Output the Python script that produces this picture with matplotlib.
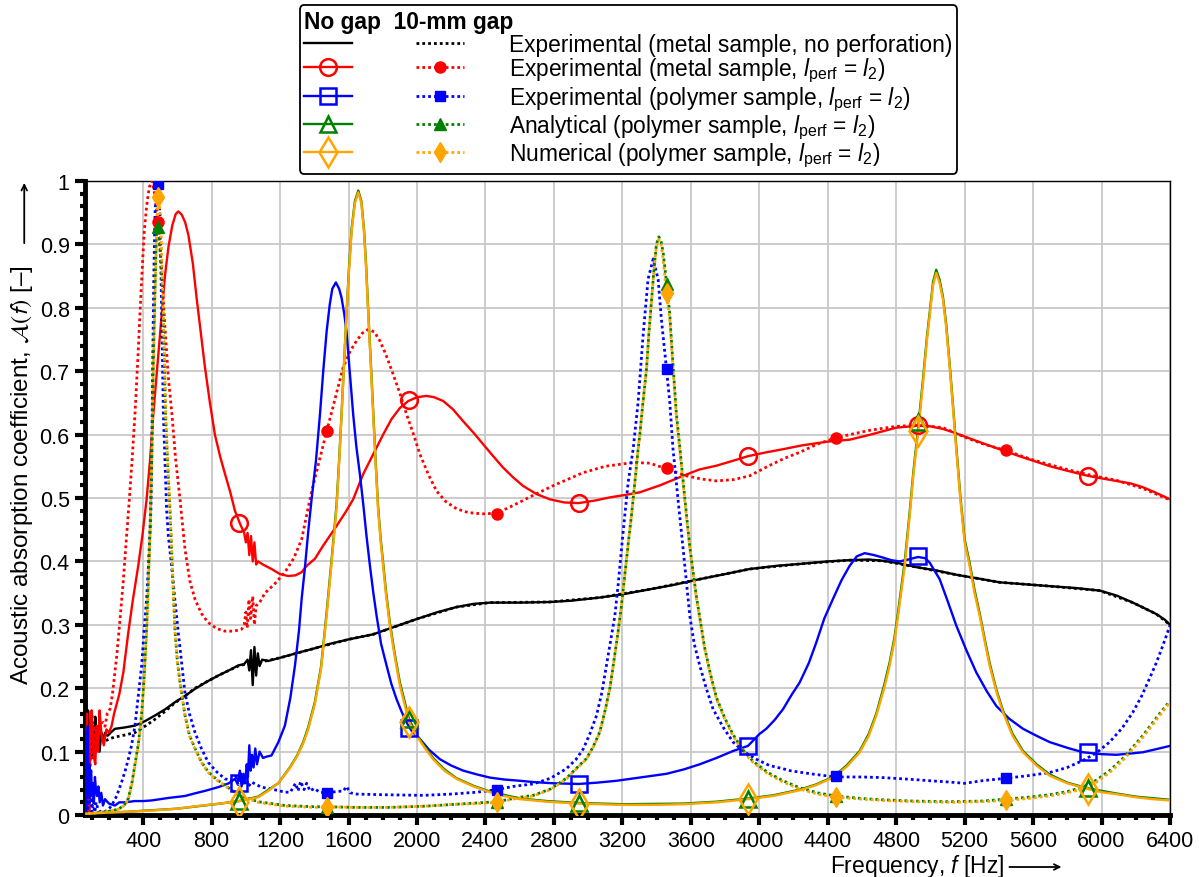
import numpy as np
import matplotlib
matplotlib.use("Agg")
import matplotlib.pyplot as plt
from matplotlib.lines import Line2D
from matplotlib.legend_handler import HandlerTuple
from matplotlib.ticker import MultipleLocator

plt.rcParams["font.family"] = ["Liberation Sans", "DejaVu Sans"]
plt.rcParams["mathtext.fontset"] = "custom"
plt.rcParams["mathtext.rm"] = "Liberation Sans"
plt.rcParams["mathtext.it"] = "Liberation Sans:italic"
plt.rcParams["mathtext.bf"] = "Liberation Sans:bold"
plt.rcParams["mathtext.fallback"] = "stixsans"

# ---- data: (frequency [Hz], absorption coefficient) ----
black_nogap = [(60, 0.21), (66, 0.18), (72, 0.13), (78, 0.165), (85, 0.10), (92, 0.15), (99, 0.09),
               (106, 0.14), (113, 0.10), (120, 0.155), (128, 0.11), (136, 0.14), (145, 0.10), (155, 0.13),
               (165, 0.12), (178, 0.13), (192, 0.125), (210, 0.13), (235, 0.136), (290, 0.138), (352, 0.141),
               (410, 0.148), (469, 0.157), (530, 0.167), (586, 0.178), (645, 0.188), (703, 0.199), (770, 0.21),
               (839, 0.22), (900, 0.228), (956, 0.236), (990, 0.238), (1010, 0.245), (1020, 0.228),
               (1030, 0.26), (1040, 0.205), (1050, 0.265), (1060, 0.22), (1070, 0.255), (1080, 0.235),
               (1095, 0.245), (1131, 0.243), (1200, 0.248), (1306, 0.256), (1403, 0.263), (1491, 0.27),
               (1600, 0.277), (1744, 0.285), (1870, 0.297), (1997, 0.309), (2120, 0.32), (2231, 0.328),
               (2330, 0.333), (2426, 0.335), (2601, 0.335), (2776, 0.336), (2900, 0.338), (3068, 0.343),
               (3200, 0.348), (3360, 0.356), (3500, 0.363), (3652, 0.372), (3800, 0.38), (3944, 0.388),
               (4100, 0.393), (4236, 0.396), (4400, 0.40), (4528, 0.402), (4640, 0.403), (4723, 0.401),
               (4818, 0.397), (4918, 0.391), (5030, 0.386), (5151, 0.379), (5280, 0.373), (5405, 0.367),
               (5550, 0.364), (5697, 0.361), (5850, 0.358), (5989, 0.354), (6090, 0.346), (6183, 0.335),
               (6260, 0.325), (6320, 0.317), (6370, 0.308), (6400, 0.30)]
black_gap = [(60, 0.17), (70, 0.12), (80, 0.15), (90, 0.10), (100, 0.16), (110, 0.11), (120, 0.14),
             (135, 0.115), (150, 0.125), (170, 0.115), (200, 0.12), (235, 0.123), (290, 0.126), (352, 0.13),
             (410, 0.14), (469, 0.151), (530, 0.164), (586, 0.177), (645, 0.188), (703, 0.2), (770, 0.21),
             (839, 0.22), (900, 0.228), (956, 0.235), (1000, 0.238), (1050, 0.24), (1100, 0.242),
             (1200, 0.248), (1403, 0.263), (1600, 0.277), (1744, 0.285), (1997, 0.309), (2231, 0.328),
             (2426, 0.335), (2776, 0.336), (3068, 0.343), (3360, 0.356), (3652, 0.372), (3944, 0.388),
             (4236, 0.396), (4528, 0.402), (4723, 0.401), (4918, 0.391), (5151, 0.379), (5405, 0.367),
             (5697, 0.361), (5989, 0.354), (6183, 0.335), (6320, 0.317), (6400, 0.30)]

red_nogap = [(60, 0.02), (66, 0.10), (72, 0.16), (78, 0.06), (85, 0.0), (92, 0.16), (99, 0.165),
             (106, 0.12), (113, 0.09), (120, 0.08), (128, 0.135), (136, 0.10), (145, 0.165), (152, 0.14),
             (160, 0.12), (170, 0.11), (185, 0.135), (200, 0.13), (215, 0.14), (230, 0.16), (245, 0.175),
             (260, 0.19), (284, 0.225), (313, 0.288), (340, 0.34), (371, 0.393), (395, 0.44), (420, 0.498),
             (440, 0.56), (459, 0.632), (485, 0.715), (508, 0.79), (527, 0.85), (547, 0.895), (570, 0.93),
             (590, 0.948), (605, 0.952), (625, 0.947), (645, 0.935), (664, 0.915), (690, 0.87),
             (712, 0.816), (737, 0.76), (761, 0.706), (790, 0.65), (819, 0.60), (850, 0.565), (878, 0.538),
             (908, 0.51), (936, 0.48), (965, 0.46), (990, 0.445), (1000, 0.43), (1010, 0.445),
             (1020, 0.41), (1030, 0.44), (1040, 0.40), (1050, 0.43), (1060, 0.395), (1072, 0.40),
             (1100, 0.395), (1150, 0.388), (1200, 0.38), (1247, 0.377), (1290, 0.378), (1326, 0.383),
             (1355, 0.393), (1403, 0.404), (1452, 0.425), (1490, 0.44), (1530, 0.456), (1588, 0.48),
             (1627, 0.498), (1686, 0.538), (1750, 0.572), (1802, 0.60), (1850, 0.624), (1900, 0.642),
             (1949, 0.653), (2000, 0.659), (2055, 0.661), (2100, 0.659), (2153, 0.653), (2210, 0.64),
             (2270, 0.621), (2330, 0.603), (2386, 0.585), (2445, 0.566), (2503, 0.548), (2560, 0.533),
             (2620, 0.519), (2700, 0.506), (2776, 0.498), (2860, 0.493), (2945, 0.492), (3040, 0.496),
             (3127, 0.501), (3220, 0.505), (3302, 0.509), (3420, 0.52), (3555, 0.535), (3650, 0.545),
             (3750, 0.551), (3850, 0.559), (3934, 0.566), (4040, 0.572), (4139, 0.577), (4250, 0.583),
             (4400, 0.589), (4528, 0.592), (4650, 0.60), (4801, 0.611), (4928, 0.614), (5000, 0.613),
             (5073, 0.609), (5140, 0.603), (5210, 0.596), (5300, 0.587), (5434, 0.574), (5520, 0.566),
             (5599, 0.559), (5700, 0.55), (5800, 0.543), (5920, 0.535), (6000, 0.531), (6086, 0.527),
             (6170, 0.523), (6242, 0.517), (6320, 0.508), (6400, 0.498)]
red_gap = [(60, 0.05), (66, 0.0), (72, 0.08), (80, 0.12), (88, 0.05), (96, 0.13), (104, 0.09),
           (112, 0.14), (120, 0.11), (128, 0.14), (136, 0.12), (145, 0.13), (155, 0.145), (167, 0.146),
           (177, 0.14), (190, 0.16), (206, 0.167), (220, 0.19), (245, 0.25), (265, 0.31), (284, 0.37),
           (300, 0.43), (317, 0.49), (335, 0.56), (352, 0.632), (367, 0.71), (381, 0.79), (394, 0.86),
           (406, 0.92), (420, 0.96), (435, 0.99), (452, 1.0), (470, 0.975), (486, 0.935), (505, 0.87),
           (527, 0.77), (547, 0.69), (568, 0.632), (590, 0.56), (615, 0.498), (644, 0.42), (672, 0.37),
           (703, 0.34), (740, 0.318), (778, 0.304), (830, 0.294), (878, 0.29), (930, 0.29), (975, 0.293),
           (990, 0.3), (1000, 0.32), (1008, 0.295), (1018, 0.34), (1028, 0.31), (1040, 0.345),
           (1050, 0.30), (1060, 0.33), (1080, 0.335), (1111, 0.35), (1170, 0.365), (1228, 0.383),
           (1280, 0.405), (1326, 0.435), (1345, 0.46), (1384, 0.51), (1430, 0.56), (1472, 0.605),
           (1520, 0.655), (1567, 0.705), (1610, 0.732), (1647, 0.748), (1680, 0.76), (1715, 0.766),
           (1750, 0.762), (1783, 0.748), (1820, 0.725), (1861, 0.695), (1900, 0.665), (1939, 0.632),
           (1980, 0.60), (2017, 0.569), (2065, 0.538), (2114, 0.511), (2170, 0.494), (2231, 0.483),
           (2300, 0.477), (2380, 0.475), (2466, 0.476), (2560, 0.488), (2677, 0.504), (2800, 0.52),
           (2971, 0.54), (3100, 0.55), (3262, 0.556), (3360, 0.555), (3458, 0.546), (3574, 0.535),
           (3660, 0.53), (3750, 0.527), (3850, 0.529), (3944, 0.535), (4050, 0.55), (4150, 0.563),
           (4236, 0.572), (4340, 0.585), (4447, 0.595), (4528, 0.6), (4650, 0.607), (4800, 0.613),
           (4930, 0.615), (5073, 0.611), (5210, 0.595), (5300, 0.586), (5440, 0.575), (5600, 0.56),
           (5800, 0.545), (5920, 0.537), (6086, 0.528), (6242, 0.515), (6400, 0.497)]

blue_nogap = [(60, 0.13), (64, 0.0), (68, 0.12), (72, 0.05), (76, 0.14), (80, 0.03), (85, 0.08),
              (90, 0.06), (96, 0.07), (100, 0.03), (106, 0.05), (112, 0.02), (118, 0.06), (124, 0.04),
              (130, 0.03), (138, 0.045), (146, 0.02), (155, 0.035), (165, 0.015), (177, 0.025),
              (200, 0.018), (235, 0.015), (260, 0.02), (294, 0.02), (350, 0.022), (400, 0.022),
              (450, 0.023), (500, 0.025), (550, 0.027), (644, 0.03), (700, 0.034), (760, 0.038),
              (839, 0.044), (900, 0.05), (936, 0.057), (950, 0.05), (965, 0.07), (975, 0.045), (985, 0.065),
              (995, 0.05), (1005, 0.08), (1012, 0.06), (1020, 0.11), (1028, 0.07), (1036, 0.095),
              (1045, 0.075), (1055, 0.105), (1065, 0.08), (1080, 0.1), (1100, 0.09), (1120, 0.092),
              (1150, 0.094), (1190, 0.115), (1228, 0.141), (1260, 0.185), (1287, 0.236), (1310, 0.29),
              (1326, 0.341), (1345, 0.39), (1364, 0.446), (1384, 0.498), (1410, 0.56), (1433, 0.632),
              (1452, 0.70), (1472, 0.763), (1490, 0.805), (1505, 0.83), (1526, 0.84), (1545, 0.83),
              (1559, 0.816), (1575, 0.79), (1588, 0.763), (1607, 0.70), (1627, 0.632), (1646, 0.58),
              (1666, 0.538), (1686, 0.49), (1705, 0.44), (1725, 0.393), (1745, 0.35), (1764, 0.314),
              (1790, 0.27), (1822, 0.236), (1850, 0.207), (1880, 0.183), (1910, 0.163), (1939, 0.146),
              (1970, 0.132), (2017, 0.12), (2070, 0.103), (2134, 0.088), (2200, 0.078), (2270, 0.07),
              (2350, 0.064), (2426, 0.059), (2510, 0.056), (2601, 0.054), (2680, 0.052), (2800, 0.05),
              (2945, 0.049), (3050, 0.051), (3166, 0.054), (3300, 0.059), (3458, 0.065), (3560, 0.072),
              (3652, 0.08), (3750, 0.09), (3847, 0.101), (3934, 0.109), (4002, 0.128), (4041, 0.136),
              (4090, 0.15), (4139, 0.167), (4190, 0.19), (4236, 0.209), (4290, 0.24), (4333, 0.272),
              (4380, 0.31), (4431, 0.341), (4480, 0.37), (4528, 0.393), (4570, 0.408), (4616, 0.413),
              (4670, 0.41), (4723, 0.406), (4770, 0.402), (4820, 0.40), (4870, 0.403), (4928, 0.407),
              (4970, 0.405), (4996, 0.398), (5025, 0.385), (5054, 0.372), (5100, 0.338), (5151, 0.299),
              (5210, 0.26), (5268, 0.225), (5330, 0.195), (5385, 0.172), (5460, 0.152), (5541, 0.136),
              (5620, 0.125), (5697, 0.115), (5800, 0.106), (5891, 0.099), (6000, 0.096), (6086, 0.095),
              (6170, 0.097), (6242, 0.099), (6320, 0.104), (6400, 0.109)]
blue_gap = [(60, 0.04), (64, 0.12), (68, 0.03), (72, 0.07), (77, 0.01), (82, 0.06), (88, 0.02),
            (94, 0.05), (100, 0.005), (108, 0.03), (115, 0.0), (125, 0.02), (135, 0.01), (150, 0.005),
            (175, 0.005), (200, 0.01), (216, 0.015), (245, 0.03), (274, 0.052), (295, 0.07), (313, 0.088),
            (332, 0.11), (352, 0.141), (372, 0.19), (391, 0.236), (405, 0.29), (420, 0.341), (430, 0.39),
            (440, 0.446), (445, 0.48), (450, 0.56), (455, 0.70), (462, 0.85), (469, 0.948), (478, 0.99),
            (486, 0.995), (498, 0.947), (508, 0.79), (518, 0.632), (528, 0.55), (537, 0.48), (547, 0.44),
            (566, 0.393), (585, 0.34), (605, 0.288), (625, 0.24), (644, 0.193), (670, 0.16), (703, 0.13),
            (740, 0.105), (780, 0.083), (830, 0.068), (878, 0.057), (920, 0.055), (940, 0.06),
            (955, 0.048), (970, 0.065), (985, 0.05), (1000, 0.06), (1015, 0.045), (1034, 0.052),
            (1060, 0.048), (1090, 0.044), (1150, 0.041), (1228, 0.036), (1260, 0.036), (1290, 0.05),
            (1305, 0.038), (1320, 0.053), (1340, 0.04), (1355, 0.05), (1375, 0.038), (1400, 0.042),
            (1430, 0.036), (1472, 0.035), (1530, 0.037), (1570, 0.038), (1588, 0.045), (1610, 0.035),
            (1647, 0.033), (1800, 0.032), (2036, 0.031), (2200, 0.033), (2350, 0.036), (2466, 0.04),
            (2560, 0.045), (2679, 0.049), (2780, 0.058), (2873, 0.073), (2930, 0.088), (2971, 0.104),
            (3010, 0.128), (3049, 0.157), (3080, 0.193), (3107, 0.236), (3132, 0.275), (3156, 0.314),
            (3176, 0.365), (3195, 0.42), (3215, 0.475), (3234, 0.525), (3263, 0.577), (3292, 0.651),
            (3321, 0.756), (3350, 0.845), (3380, 0.877), (3409, 0.845), (3428, 0.782), (3458, 0.703),
            (3477, 0.651), (3496, 0.577), (3510, 0.54), (3525, 0.498), (3555, 0.42), (3594, 0.314),
            (3620, 0.27), (3652, 0.236), (3690, 0.2), (3730, 0.167), (3790, 0.138), (3847, 0.115),
            (3910, 0.1), (3983, 0.088), (4060, 0.078), (4139, 0.073), (4178, 0.07), (4300, 0.065),
            (4447, 0.06), (4600, 0.06), (4723, 0.059), (4900, 0.056), (5000, 0.054), (5112, 0.052),
            (5200, 0.05), (5300, 0.054), (5440, 0.058), (5570, 0.062), (5697, 0.067), (5800, 0.075),
            (5891, 0.086), (5970, 0.098), (6047, 0.115), (6120, 0.137), (6183, 0.162), (6235, 0.188),
            (6280, 0.215), (6320, 0.24), (6358, 0.267), (6400, 0.299)]

green_nogap = [(60, 0.002), (300, 0.005), (600, 0.01), (850, 0.018), (960, 0.022), (1072, 0.029),
               (1189, 0.05), (1257, 0.075), (1300, 0.094), (1335, 0.115), (1364, 0.138), (1403, 0.178),
               (1440, 0.235), (1472, 0.32), (1500, 0.4), (1530, 0.49), (1545, 0.56), (1559, 0.632),
               (1575, 0.72), (1588, 0.79), (1603, 0.865), (1618, 0.925), (1637, 0.968), (1657, 0.985),
               (1675, 0.968), (1690, 0.925), (1703, 0.865), (1715, 0.795), (1730, 0.715), (1744, 0.637),
               (1758, 0.56), (1773, 0.485), (1788, 0.435), (1802, 0.398), (1820, 0.35), (1841, 0.304),
               (1870, 0.254), (1900, 0.209), (1953, 0.152), (1997, 0.127), (2040, 0.11), (2094, 0.09),
               (2160, 0.072), (2231, 0.058), (2330, 0.046), (2426, 0.037), (2601, 0.026), (2760, 0.022),
               (2945, 0.019), (3204, 0.017), (3555, 0.018), (3750, 0.021), (3934, 0.026), (4080, 0.031),
               (4236, 0.04), (4330, 0.048), (4431, 0.06), (4510, 0.078), (4587, 0.101), (4640, 0.128),
               (4684, 0.16), (4730, 0.205), (4762, 0.241), (4790, 0.28), (4811, 0.32), (4850, 0.4),
               (4879, 0.478), (4900, 0.54), (4928, 0.61), (4957, 0.688), (4980, 0.755), (4996, 0.793),
               (5015, 0.84), (5034, 0.86), (5053, 0.845), (5073, 0.818), (5092, 0.775), (5112, 0.713),
               (5131, 0.65), (5151, 0.582), (5175, 0.503), (5200, 0.435), (5229, 0.398), (5258, 0.355),
               (5288, 0.318), (5320, 0.274), (5346, 0.24), (5385, 0.198), (5424, 0.165), (5480, 0.128),
               (5541, 0.101), (5620, 0.08), (5697, 0.064), (5800, 0.051), (5920, 0.042), (6086, 0.034),
               (6200, 0.029), (6400, 0.024)]
green_gap = [(60, 0.002), (150, 0.004), (200, 0.006), (255, 0.009), (290, 0.016), (313, 0.026),
             (335, 0.052), (352, 0.08), (372, 0.113), (391, 0.16), (405, 0.215), (420, 0.295), (430, 0.37),
             (440, 0.455), (450, 0.57), (459, 0.71), (469, 0.83), (477, 0.915), (483, 0.94), (488, 0.925),
             (496, 0.9), (504, 0.875), (511, 0.83), (518, 0.775), (525, 0.7), (531, 0.628), (544, 0.548),
             (557, 0.478), (570, 0.392), (586, 0.29), (600, 0.242), (615, 0.21), (644, 0.158), (670, 0.126),
             (703, 0.105), (740, 0.084), (780, 0.068), (830, 0.056), (878, 0.047), (960, 0.031),
             (1072, 0.021), (1228, 0.015), (1403, 0.013), (1472, 0.013), (1650, 0.012), (1841, 0.012),
             (2050, 0.014), (2231, 0.017), (2350, 0.019), (2466, 0.021), (2601, 0.028), (2679, 0.031),
             (2780, 0.041), (2873, 0.058), (2940, 0.076), (2990, 0.089), (3030, 0.108), (3068, 0.131),
             (3100, 0.166), (3127, 0.2), (3152, 0.246), (3175, 0.289), (3195, 0.331), (3214, 0.378),
             (3235, 0.43), (3253, 0.472), (3275, 0.53), (3292, 0.577), (3302, 0.6), (3320, 0.65),
             (3341, 0.703), (3355, 0.76), (3370, 0.81), (3385, 0.862), (3399, 0.9), (3413, 0.912),
             (3426, 0.905), (3438, 0.888), (3458, 0.84), (3477, 0.79), (3496, 0.71), (3516, 0.632),
             (3535, 0.582), (3564, 0.502), (3594, 0.423), (3633, 0.344), (3681, 0.264), (3715, 0.222),
             (3750, 0.185), (3800, 0.152), (3847, 0.127), (3900, 0.104), (3963, 0.085), (4050, 0.067),
             (4139, 0.054), (4236, 0.043), (4340, 0.035), (4447, 0.03), (4600, 0.026), (4723, 0.024),
             (4900, 0.022), (5112, 0.021), (5300, 0.022), (5440, 0.025), (5570, 0.028), (5697, 0.032),
             (5800, 0.037), (5891, 0.044), (5970, 0.055), (6047, 0.07), (6120, 0.088), (6183, 0.107),
             (6240, 0.125), (6280, 0.139), (6340, 0.16), (6400, 0.18)]

orange_nogap = [(60, 0.002), (200, 0.004), (300, 0.005), (450, 0.007), (600, 0.01), (742, 0.015),
                (850, 0.018), (960, 0.022), (1072, 0.028), (1130, 0.038), (1189, 0.05), (1257, 0.074),
                (1300, 0.093), (1335, 0.113), (1364, 0.135), (1403, 0.175), (1440, 0.232), (1472, 0.315),
                (1500, 0.395), (1530, 0.485), (1545, 0.556), (1559, 0.63), (1575, 0.718), (1588, 0.79),
                (1603, 0.86), (1618, 0.921), (1637, 0.965), (1657, 0.982), (1675, 0.965), (1690, 0.921),
                (1703, 0.86), (1715, 0.79), (1730, 0.71), (1744, 0.632), (1758, 0.555), (1773, 0.48),
                (1788, 0.43), (1802, 0.393), (1820, 0.345), (1841, 0.299), (1870, 0.25), (1900, 0.204),
                (1953, 0.147), (1997, 0.125), (2040, 0.108), (2094, 0.088), (2160, 0.07), (2231, 0.057),
                (2330, 0.045), (2426, 0.036), (2510, 0.03), (2601, 0.025), (2760, 0.021), (2945, 0.018),
                (3204, 0.016), (3400, 0.016), (3555, 0.017), (3750, 0.02), (3934, 0.025), (4080, 0.03),
                (4236, 0.039), (4330, 0.047), (4431, 0.059), (4510, 0.076), (4587, 0.099), (4640, 0.125),
                (4684, 0.157), (4730, 0.2), (4762, 0.236), (4790, 0.275), (4811, 0.314), (4850, 0.393),
                (4879, 0.472), (4900, 0.535), (4928, 0.603), (4957, 0.682), (4980, 0.75), (4996, 0.788),
                (5015, 0.835), (5034, 0.855), (5053, 0.84), (5073, 0.814), (5092, 0.77), (5112, 0.709),
                (5131, 0.645), (5151, 0.577), (5175, 0.498), (5200, 0.43), (5229, 0.393), (5258, 0.35),
                (5288, 0.314), (5320, 0.27), (5346, 0.236), (5385, 0.195), (5424, 0.162), (5480, 0.125),
                (5541, 0.099), (5620, 0.078), (5697, 0.062), (5800, 0.05), (5920, 0.041), (6000, 0.036),
                (6086, 0.033), (6200, 0.028), (6300, 0.025), (6400, 0.023)]
orange_gap = [(60, 0.002), (150, 0.004), (200, 0.006), (255, 0.009), (290, 0.015), (313, 0.025),
              (335, 0.05), (352, 0.078), (372, 0.11), (391, 0.157), (405, 0.21), (420, 0.288), (430, 0.36),
              (440, 0.446), (450, 0.56), (459, 0.7), (469, 0.82), (479, 0.921), (488, 0.98), (496, 0.96),
              (504, 0.921), (511, 0.86), (518, 0.79), (525, 0.71), (531, 0.632), (544, 0.55), (557, 0.48),
              (570, 0.393), (586, 0.288), (600, 0.24), (615, 0.209), (644, 0.157), (670, 0.125),
              (703, 0.104), (740, 0.083), (780, 0.067), (830, 0.055), (878, 0.046), (960, 0.03),
              (1072, 0.02), (1228, 0.014), (1403, 0.012), (1472, 0.013), (1650, 0.012), (1841, 0.012),
              (2050, 0.014), (2231, 0.017), (2350, 0.018), (2466, 0.02), (2601, 0.027), (2679, 0.03),
              (2780, 0.04), (2873, 0.057), (2940, 0.075), (2990, 0.088), (3030, 0.107), (3068, 0.13),
              (3100, 0.165), (3127, 0.199), (3152, 0.245), (3175, 0.288), (3195, 0.33), (3214, 0.377),
              (3235, 0.43), (3253, 0.472), (3275, 0.53), (3292, 0.577), (3302, 0.6), (3320, 0.65),
              (3341, 0.703), (3355, 0.76), (3370, 0.809), (3385, 0.86), (3399, 0.898), (3413, 0.908),
              (3426, 0.9), (3438, 0.877), (3458, 0.824), (3477, 0.782), (3496, 0.703), (3516, 0.625),
              (3535, 0.577), (3564, 0.498), (3594, 0.42), (3633, 0.341), (3681, 0.262), (3715, 0.22),
              (3750, 0.183), (3800, 0.15), (3847, 0.125), (3900, 0.102), (3963, 0.083), (4050, 0.065),
              (4139, 0.052), (4236, 0.041), (4340, 0.033), (4447, 0.028), (4600, 0.025), (4723, 0.023),
              (4900, 0.021), (5112, 0.02), (5300, 0.021), (5440, 0.023), (5570, 0.026), (5697, 0.03),
              (5800, 0.035), (5891, 0.041), (5970, 0.052), (6047, 0.067), (6120, 0.085), (6183, 0.104),
              (6240, 0.122), (6280, 0.136), (6340, 0.157), (6400, 0.178)]

# marker positions (every ~990 Hz along each curve)
mark_f_nogap = [960, 1952, 2944, 3936, 4928, 5920]
mark_f_gap = [486, 1474, 2466, 3459, 4448, 5440]
red_mark_nogap = [0.46, 0.654, 0.492, 0.566, 0.615, 0.535]
red_mark_gap = [0.935, 0.605, 0.475, 0.547, 0.595, 0.575]
blue_mark_nogap = [0.05, 0.138, 0.049, 0.109, 0.408, 0.099]
blue_mark_gap = [0.995, 0.035, 0.04, 0.703, 0.061, 0.058]
green_mark_nogap = [0.022, 0.152, 0.019, 0.026, 0.62, 0.043]
green_mark_gap = [0.928, 0.013, 0.021, 0.838, 0.03, 0.025]
orange_mark_nogap = [0.021, 0.146, 0.018, 0.025, 0.605, 0.041]
orange_mark_gap = [0.975, 0.013, 0.02, 0.823, 0.028, 0.023]

labels = ["Experimental (metal sample, no perforation)",
          r"Experimental (metal sample, $l_\mathrm{perf}$ = $l_2$)",
          r"Experimental (polymer sample, $l_\mathrm{perf}$ = $l_2$)",
          r"Analytical (polymer sample, $l_\mathrm{perf}$ = $l_2$)",
          r"Numerical (polymer sample, $l_\mathrm{perf}$ = $l_2$)"]
x_ticks = list(range(400, 6401, 400))
y_ticks = [0, 0.1, 0.2, 0.3, 0.4, 0.5, 0.6, 0.7, 0.8, 0.9, 1.0]
y_tick_labels = ["0", "0.1", "0.2", "0.3", "0.4", "0.5", "0.6", "0.7", "0.8", "0.9", "1"]

# ---- styles ----
DOT = (0, (1, 1.1))
DOT_SHIFT = (1.05, (1, 1.1))
series = [
    # color, nogap data, gap data, marker, nogap marks, gap marks, open ms, filled ms, gap dot style
    ("black", black_nogap, black_gap, None, None, None, 0, 0, DOT),
    ("#ff0000", red_nogap, red_gap, "o", red_mark_nogap, red_mark_gap, 12, 8, DOT),
    ("#0000ff", blue_nogap, blue_gap, "s", blue_mark_nogap, blue_mark_gap, 11, 7.5, DOT),
    ("#008000", green_nogap, green_gap, "^", green_mark_nogap, green_mark_gap, 12, 8, DOT),
    ("#ffa500", orange_nogap, orange_gap, "d", orange_mark_nogap, orange_mark_gap, 15, 10, DOT_SHIFT),
]

fig = plt.figure(figsize=(11.99, 8.78), dpi=100)
ax = fig.add_axes([0.0709, 0.0706, 0.9049, 0.7221])

handles = []
for i, (c, d0, d1, mk, m0, m1, ms_o, ms_f, dstyle) in enumerate(series):
    z = 3 + i
    f0, a0 = np.array(d0).T
    f1, a1 = np.array(d1).T
    ax.plot(f1, a1, color=c, lw=2.0, ls=dstyle, zorder=z)
    ax.plot(f0, a0, color=c, lw=1.7, zorder=z + 0.5)
    if mk is not None:
        ax.plot(mark_f_nogap, m0, ls="none", marker=mk, ms=ms_o, mfc="none", mec=c, mew=1.8, zorder=10 + i)
        ax.plot(mark_f_gap, m1, ls="none", marker=mk, ms=ms_f, mfc=c, mec=c, mew=1, zorder=10 + i)
        h0 = Line2D([], [], color=c, lw=1.7, marker=mk, ms=ms_o, mfc="none", mec=c, mew=1.8)
        h1 = Line2D([], [], color=c, lw=2.0, ls=DOT, marker=mk, ms=ms_f, mfc=c, mec=c)
    else:
        h0 = Line2D([], [], color=c, lw=1.7)
        h1 = Line2D([], [], color=c, lw=2.0, ls=DOT)
    handles.append((h0, h1))

ax.set_xlim(60, 6400)
ax.set_ylim(0, 1)
ax.set_xticks(x_ticks)
ax.set_yticks(y_ticks)
ax.set_yticklabels(y_tick_labels)
ax.xaxis.set_minor_locator(MultipleLocator(100))
ax.yaxis.set_minor_locator(MultipleLocator(0.02))
ax.tick_params(which="major", direction="out", length=7, width=3, labelsize=15.5, pad=4)
ax.tick_params(which="minor", direction="out", length=3.5, width=3)
ax.grid(True, which="major", color="#c8c8c8", lw=1.3)
ax.set_axisbelow(True)
for side in ("left", "bottom"):
    ax.spines[side].set_linewidth(3.5)
for side in ("top", "right"):
    ax.spines[side].set_linewidth(1.0)

# axis titles, each followed by a long arrow
ax.set_xlabel(r"Frequency, $f$ [Hz]", fontsize=16.5)
ax.xaxis.set_label_coords(0.767, -0.058)
ax.annotate("", xy=(0.900, -0.082), xytext=(0.852, -0.082), xycoords="axes fraction",
            arrowprops=dict(arrowstyle="->", lw=1.3, color="black", shrinkA=0, shrinkB=0),
            annotation_clip=False)
ax.set_ylabel(r"Acoustic absorption coefficient, $\mathcal{A}(f)$ [–]",
              fontsize=17.5, math_fontfamily="stixsans")
ax.yaxis.set_label_coords(-0.046, 0.538)
ax.annotate("", xy=(-0.056, 0.997), xytext=(-0.056, 0.902), xycoords="axes fraction",
            arrowprops=dict(arrowstyle="->", lw=1.3, color="black", shrinkA=0, shrinkB=0),
            annotation_clip=False)

leg = ax.legend(handles, labels, handler_map={tuple: HandlerTuple(ndivide=None, pad=2.8)},
                handlelength=7.0, handletextpad=2.0, title="No gap  10-mm gap", alignment="left",
                title_fontproperties={"weight": "bold", "size": 16.4}, fontsize=16.4,
                loc="upper center", bbox_to_anchor=(0.5242, 0.993), bbox_transform=fig.transFigure,
                frameon=True, fancybox=True, edgecolor="black", framealpha=1,
                borderpad=0.2, labelspacing=0.0, borderaxespad=0, numpoints=1)
leg.get_frame().set_linewidth(1.3)

fig.savefig("out.png", dpi=100)
